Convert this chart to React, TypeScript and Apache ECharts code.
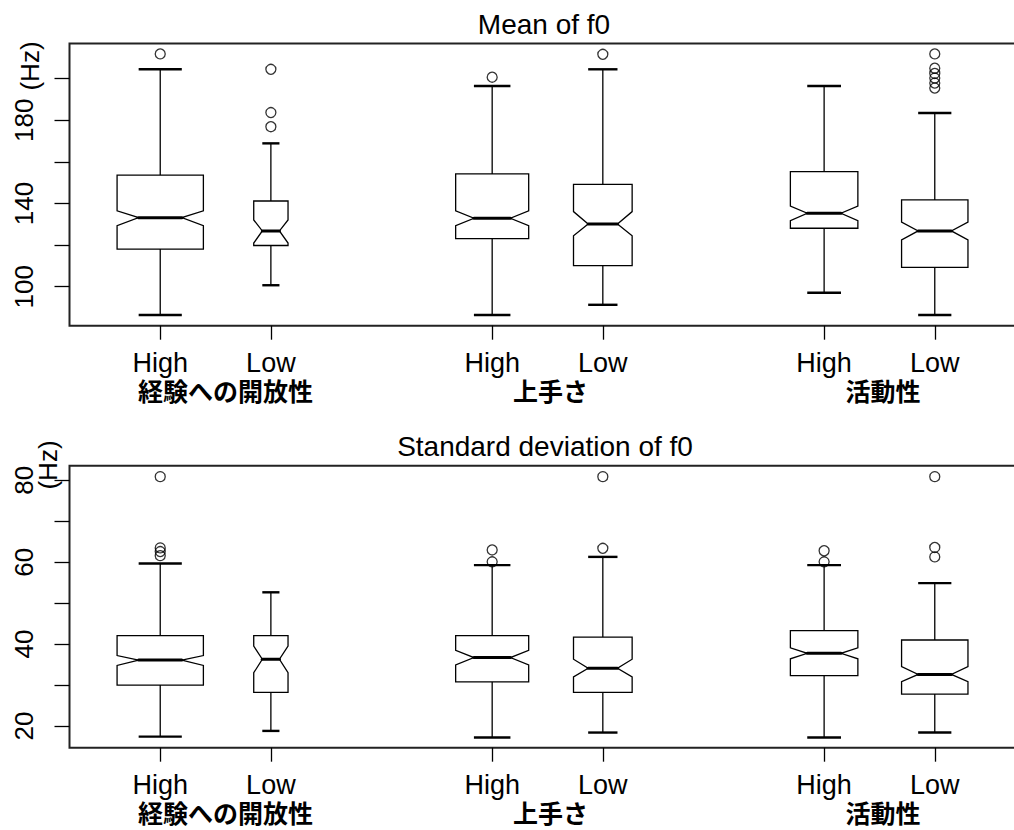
import React, { useEffect, useRef } from "react";
import * as echarts from "echarts";

// Groups (personality traits) and levels within each group
const groups = ["経験への開放性", "上手さ", "活動性"];
const levels = ["High", "Low", "High", "Low", "High", "Low"];
const positions = [1, 2, 4, 5, 7, 8];
const groupCenters = [1.5, 4.5, 7.5];
// Relative box widths (proportional to sqrt of group size)
const boxWidths = [0.78, 0.31, 0.66, 0.53, 0.61, 0.6];

// Box statistics: [lower whisker, Q1, notch low, median, notch high, Q3, upper whisker]
const meanStats = [
  [86.4, 118.1, 129.3, 133.2, 136.5, 153.6, 204.5],
  [100.7, 119.8, 121.0, 126.8, 132.1, 141.2, 168.9],
  [86.4, 123.1, 129.3, 132.9, 136.5, 154.2, 196.5],
  [91.3, 110.1, 124.5, 130.1, 136.1, 149.2, 204.5],
  [97.1, 128.1, 131.7, 135.3, 138.8, 155.3, 196.5],
  [86.4, 109.3, 122.5, 126.8, 131.1, 141.7, 183.5],
];
const meanOutliers = [
  [211.9],
  [204.5, 183.7, 176.9],
  [200.7],
  [211.7],
  [],
  [211.9, 205.0, 202.5, 200.3, 197.9, 195.5],
];

const sdStats = [
  [17.4, 30.0, 34.8, 36.1, 37.2, 42.05, 59.7],
  [18.8, 28.2, 33.0, 36.3, 39.5, 42.05, 52.65],
  [17.2, 30.8, 34.9, 36.7, 38.5, 42.05, 59.3],
  [18.4, 28.2, 32.0, 34.1, 36.3, 41.7, 61.3],
  [17.2, 32.3, 36.4, 37.75, 39.1, 43.3, 59.3],
  [18.4, 27.8, 30.8, 32.6, 34.5, 41.0, 54.9],
];
const sdOutliers = [
  [80.9, 63.5, 62.6, 61.6],
  [],
  [63.0, 60.1],
  [80.9, 63.4],
  [62.8, 60.1],
  [80.9, 63.6, 61.3],
];

const meanTicks = [100, 120, 140, 160, 180, 200];
const meanTickLabels = [100, 140, 180];
const sdTicks = [20, 30, 40, 50, 60, 70, 80];
const sdTickLabels = [20, 40, 60, 80];

const LATIN = '"Liberation Sans", Arial, Helvetica, sans-serif';
const CJK = '"Noto Sans CJK JP", "Noto Sans CJK SC", sans-serif';
const INK = "#000";

function boxData(stats: number[][]) {
  return stats.map((s, i) => [positions[i], ...s, boxWidths[i]]);
}

function outlierData(outs: number[][]) {
  const pts: number[][] = [];
  outs.forEach((list, i) => list.forEach((v) => pts.push([positions[i], v])));
  return pts;
}

// Notched box with whiskers and staples
function renderNotchedBox(params: any, api: any) {
  const x = api.value(0);
  const lo = api.value(1);
  const q1 = api.value(2);
  const nlo = api.value(3);
  const med = api.value(4);
  const nhi = api.value(5);
  const q3 = api.value(6);
  const hi = api.value(7);
  const w = api.value(8);
  const half = api.size([w, 0])[0] / 2;
  const cx = api.coord([x, med])[0];
  const y = (v: number) => api.coord([x, v])[1];
  const f = 0.5;
  const poly = [
    [cx - half, y(q1)],
    [cx - half, y(nlo)],
    [cx - half * f, y(med)],
    [cx - half, y(nhi)],
    [cx - half, y(q3)],
    [cx + half, y(q3)],
    [cx + half, y(nhi)],
    [cx + half * f, y(med)],
    [cx + half, y(nlo)],
    [cx + half, y(q1)],
  ];
  const thin = { stroke: INK, lineWidth: 1.3 };
  const staple = { stroke: INK, lineWidth: 2.4 };
  return {
    type: "group",
    children: [
      { type: "line", shape: { x1: cx, y1: y(q3), x2: cx, y2: y(hi) }, style: thin },
      { type: "line", shape: { x1: cx, y1: y(q1), x2: cx, y2: y(lo) }, style: thin },
      { type: "line", shape: { x1: cx - half / 2, y1: y(hi), x2: cx + half / 2, y2: y(hi) }, style: staple },
      { type: "line", shape: { x1: cx - half / 2, y1: y(lo), x2: cx + half / 2, y2: y(lo) }, style: staple },
      { type: "polygon", shape: { points: poly }, style: { fill: "#fff", stroke: INK, lineWidth: 1.3 } },
      {
        type: "line",
        shape: { x1: cx - half * f, y1: y(med), x2: cx + half * f, y2: y(med) },
        style: { stroke: INK, lineWidth: 3, lineCap: "round" },
      },
    ],
  };
}

const groupLabelStyle = {
  fontSize: 25,
  fontWeight: "bold",
  fontFamily: CJK,
  color: INK,
  lineHeight: 22,
};

export default function App() {
  const ref = useRef<HTMLDivElement>(null);

  useEffect(() => {
    if (!ref.current) return;
    const chart = echarts.init(ref.current, undefined, { renderer: "svg" });

    const gridLeft = 69.5;
    const gridWidth = 956;
    const grids = [
      { left: gridLeft, top: 43.5, width: gridWidth, height: 282.2 },
      { left: gridLeft, top: 465.7, width: gridWidth, height: 282 },
    ].map((g) => ({
      ...g,
      show: true,
      outerBoundsMode: "none",
      containLabel: false,
      borderColor: "#222",
      borderWidth: 2,
      backgroundColor: "transparent",
    }));

    const levelAxis = (gridIndex: number) => ({
      type: "value",
      gridIndex,
      min: 0.18,
      max: 8.82,
      position: "bottom",
      axisLine: { show: false },
      splitLine: { show: false },
      axisTick: {
        show: true,
        length: 14,
        customValues: positions,
        lineStyle: { color: INK, width: 1.3 },
      },
      axisLabel: {
        show: true,
        customValues: positions,
        formatter: (v: number) => levels[positions.indexOf(v)] ?? "",
        margin: 26.5,
        lineHeight: 22,
        fontSize: 27,
        fontFamily: LATIN,
        color: INK,
      },
    });
    const groupAxis = (gridIndex: number) => ({
      type: "value",
      gridIndex,
      min: 0.18,
      max: 8.82,
      position: "bottom",
      axisLine: { show: false },
      splitLine: { show: false },
      axisTick: { show: false },
      axisLabel: {
        show: true,
        customValues: groupCenters,
        formatter: (v: number) => {
          const i = groupCenters.indexOf(v);
          return i < 0 ? "" : `{g${i}|${groups[i]}}`;
        },
        margin: 53.5,
        ...groupLabelStyle,
        rich: {
          g0: { ...groupLabelStyle, padding: [0, 0, 0, 20] },
          g1: { ...groupLabelStyle, padding: [0, 0, 0, 6] },
          g2: { ...groupLabelStyle, padding: [0, 0, 0, 7] },
        },
      },
    });
    const valueAxis = (gridIndex: number, min: number, max: number, ticks: number[], labels: number[]) => ({
      type: "value",
      gridIndex,
      min,
      max,
      axisLine: { show: false },
      splitLine: { show: false },
      axisTick: {
        show: true,
        length: 15,
        customValues: ticks,
        lineStyle: { color: INK, width: 1.3 },
      },
      axisLabel: {
        show: true,
        customValues: labels,
        rotate: 90,
        margin: 33,
        fontSize: 26,
        fontFamily: LATIN,
        color: INK,
      },
    });

    chart.setOption({
      animation: false,
      backgroundColor: "#fff",
      title: [
        {
          text: "Mean of f0",
          left: 544,
          top: 10,
          textAlign: "center",
          padding: 0,
          textStyle: { fontSize: 28, fontWeight: "normal", fontFamily: LATIN, color: INK },
        },
        {
          text: "Standard deviation of f0",
          left: 545,
          top: 432,
          textAlign: "center",
          padding: 0,
          textStyle: { fontSize: 28, fontWeight: "normal", fontFamily: LATIN, color: INK },
        },
      ],
      grid: grids,
      xAxis: [levelAxis(0), groupAxis(0), levelAxis(1), groupAxis(1)],
      yAxis: [
        valueAxis(0, 81.25, 216.9, meanTicks, meanTickLabels),
        valueAxis(1, 14.7, 83.57, sdTicks, sdTickLabels),
      ],
      graphic: [
        {
          type: "text",
          x: 30,
          y: 66,
          rotation: Math.PI / 2,
          style: { text: "(Hz)", font: `26px ${LATIN}`, align: "center", verticalAlign: "middle", fill: INK },
        },
        {
          type: "text",
          x: 48,
          y: 465,
          rotation: Math.PI / 2,
          style: { text: "(Hz)", font: `26px ${LATIN}`, align: "center", verticalAlign: "middle", fill: INK },
        },
      ],
      series: [
        {
          type: "custom",
          xAxisIndex: 0,
          yAxisIndex: 0,
          renderItem: renderNotchedBox,
          encode: { x: 0, y: [1, 2, 3, 4, 5, 6, 7] },
          data: boxData(meanStats),
          z: 2,
        },
        {
          type: "scatter",
          xAxisIndex: 0,
          yAxisIndex: 0,
          symbol: "circle",
          symbolSize: 10,
          itemStyle: { color: "transparent", borderColor: INK, borderWidth: 1.3 },
          data: outlierData(meanOutliers),
          z: 3,
        },
        {
          type: "custom",
          xAxisIndex: 2,
          yAxisIndex: 1,
          renderItem: renderNotchedBox,
          encode: { x: 0, y: [1, 2, 3, 4, 5, 6, 7] },
          data: boxData(sdStats),
          z: 2,
        },
        {
          type: "scatter",
          xAxisIndex: 2,
          yAxisIndex: 1,
          symbol: "circle",
          symbolSize: 10,
          itemStyle: { color: "transparent", borderColor: INK, borderWidth: 1.3 },
          data: outlierData(sdOutliers),
          z: 3,
        },
      ],
    });

    return () => chart.dispose();
  }, []);

  return (
    <div
      ref={ref}
      style={{ position: "fixed", left: 0, top: 0, width: 1014, height: 830, background: "#fff" }}
    />
  );
}
